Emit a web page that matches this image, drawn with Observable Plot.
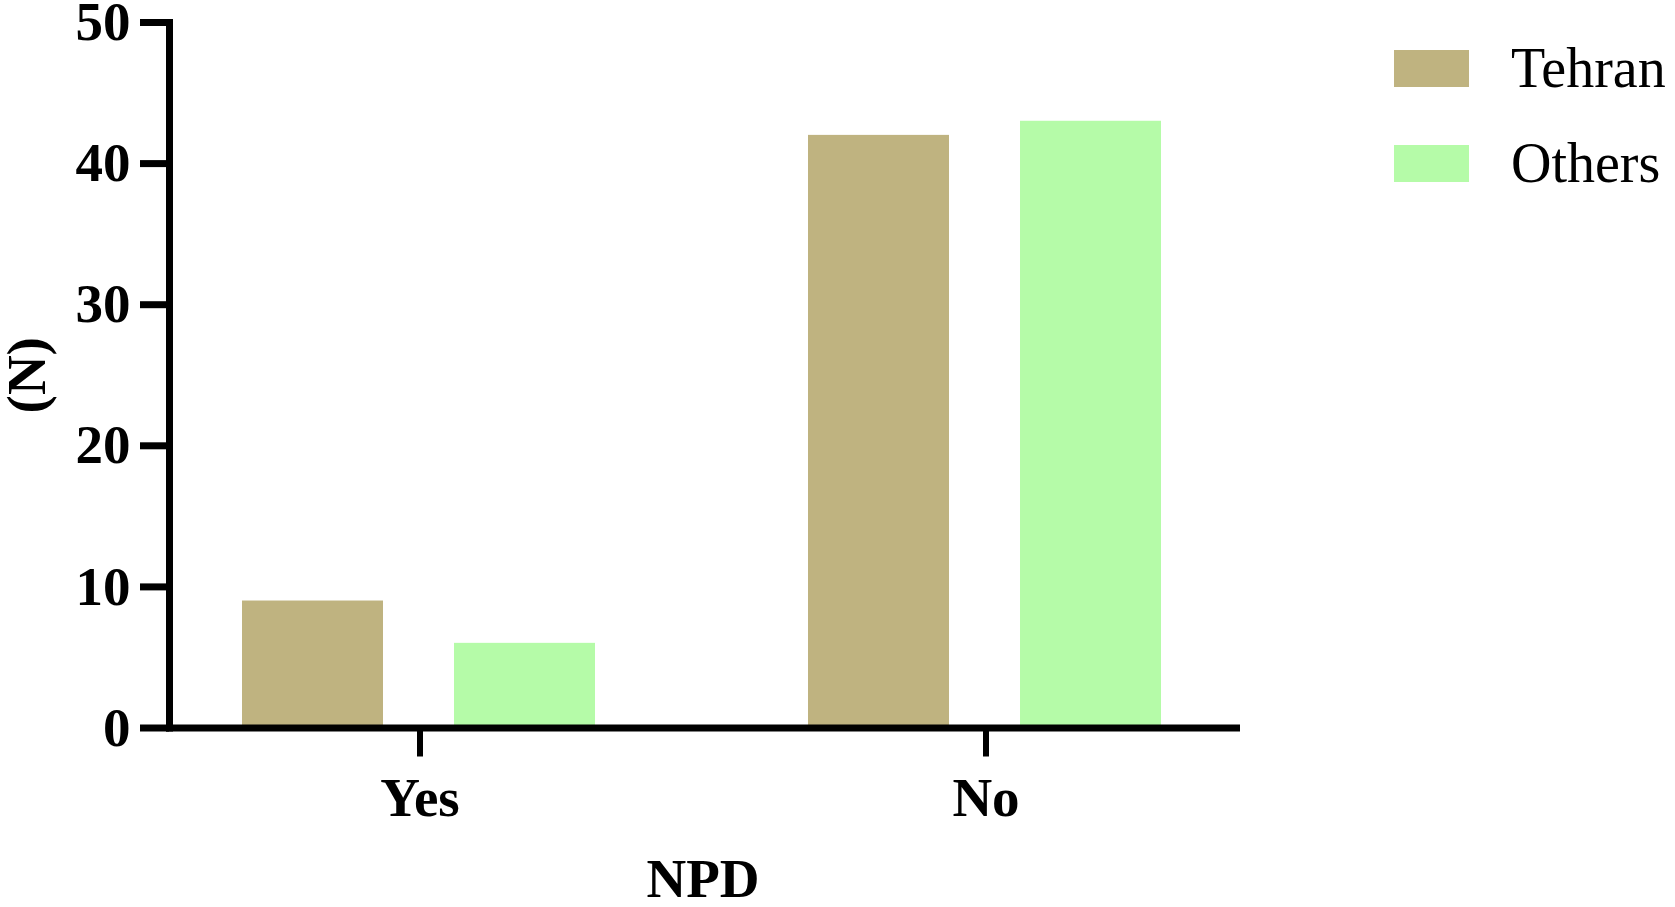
<!DOCTYPE html>
<html>
<head>
<meta charset="utf-8">
<script src="https://cdn.jsdelivr.net/npm/d3@7"></script>
<script src="https://cdn.jsdelivr.net/npm/@observablehq/plot@0.6"></script>
<style>
  html, body { margin: 0; padding: 0; background: #fff; }
  #wrap { position: relative; width: 1675px; height: 907px; overflow: hidden; }
  #legend { position: absolute; left: 1394px; top: 50px; font-family: "Liberation Serif", "Times New Roman", serif; }
  .row { display: flex; align-items: center; height: 36.5px; margin-bottom: 58.5px; }
  .sw { width: 75px; height: 36.5px; }
  .lab { margin-left: 42px; font-size: 56px; line-height: 36.5px; color: #000; white-space: nowrap; }
</style>
</head>
<body>
<div id="wrap"></div>
<script>
const groups = ["Yes", "No"];
const series = ["Tehran", "Others"];
const tehranValues = [9, 42];
const othersValues = [6, 43];
const seriesColors = ["#bfb380", "#b5fba8"];
const yTicks = [0, 10, 20, 30, 40, 50];

const rows = groups.flatMap((g, i) => [
  {group: g, series: series[0], value: tehranValues[i]},
  {group: g, series: series[1], value: othersValues[i]}
]);

const chart = Plot.plot({
  width: 1675,
  height: 907,
  marginLeft: 169,
  marginRight: 439,
  marginTop: 22,
  marginBottom: 179.5,
  style: {fontFamily: "'Liberation Serif', 'Times New Roman', serif", fontSize: "55px", color: "#000", background: "#fff"},
  fx: {domain: groups, paddingInner: 0.115, paddingOuter: 0, label: "NPD"},
  x: {domain: series, paddingInner: 0.337, paddingOuter: 0.347, align: 0.49, axis: null},
  y: {domain: [0, 50], axis: null},
  color: {domain: series, range: seriesColors},
  marks: [
    Plot.barY(rows, {fx: "group", x: "series", y: "value", fill: "series"}),
    Plot.frame({anchor: "left", facet: "super", stroke: "#000", strokeWidth: 7, strokeLinecap: "square"}),
    Plot.frame({anchor: "bottom", facet: "super", stroke: "#000", strokeWidth: 7, strokeLinecap: "square"}),
    Plot.axisY({ticks: yTicks, tickSize: 29, tickPadding: 10, strokeWidth: 7, fontWeight: "bold", fontSize: 55,
      label: "(N)", labelAnchor: "center", labelArrow: "none", labelOffset: 164}),
    Plot.axisFx({anchor: "bottom", tickSize: 29, tickPadding: 20, strokeWidth: 6, fontWeight: "bold", fontSize: 55,
      label: "NPD", labelAnchor: "center", labelArrow: "none", labelOffset: 169})
  ]
});
document.getElementById("wrap").appendChild(chart);

const legend = document.createElement("div");
legend.id = "legend";
series.forEach((s, i) => {
  const r = document.createElement("div");
  r.className = "row";
  const sw = document.createElement("div");
  sw.className = "sw";
  sw.style.background = seriesColors[i];
  const lab = document.createElement("div");
  lab.className = "lab";
  lab.textContent = s;
  r.appendChild(sw);
  r.appendChild(lab);
  legend.appendChild(r);
});
document.getElementById("wrap").appendChild(legend);
</script>
</body>
</html>
